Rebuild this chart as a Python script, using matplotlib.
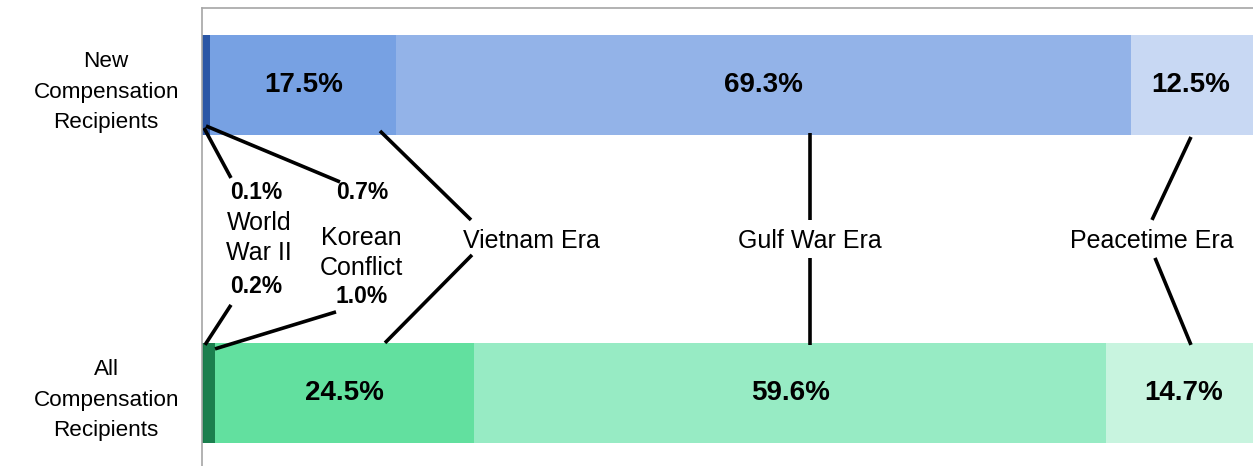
import matplotlib
matplotlib.use("Agg")
import matplotlib.pyplot as plt

# ----------------------------------------------------------------------------------------------------------------------
# Chart Data
eras      = ["World War II", "Korean Conflict", "Vietnam Era", "Gulf War Era", "Peacetime Era"]
rows      = ["All\nCompensation\nRecipients", "New\nCompensation\nRecipients"]
new_pct   = [0.1, 0.7, 17.5, 69.3, 12.5]
all_pct   = [0.2, 1.0, 24.5, 59.6, 14.7]

new_cols  = ["#1f4d9c", "#2a56a6", "#77a1e3", "#93b3e8", "#c8d8f3"]
all_cols  = ["#177a4a", "#1b7f4e", "#62e09f", "#97ebc4", "#c8f4df"]
# ----------------------------------------------------------------------------------------------------------------------

plt.rcParams["font.family"] = ["Liberation Sans", "DejaVu Sans"]

W, H = 1253, 466
fig = plt.figure(figsize=(W / 100, H / 100), dpi=100)

# Axes Spans Past The Right Edge (Picture Is Cropped There)
ax = fig.add_axes([202 / W, 1 - 476 / H, (1262 - 202) / W, (476 - 8) / H])
ax.set_xlim(0, 100)
ax.set_ylim(-0.27, 1.25)

bar_h = 0.325
for y, vals, cols in [(1, new_pct, new_cols), (0, all_pct, all_cols)]:
    left = 0
    for i, (v, c) in enumerate(zip(vals, cols)):
        ax.barh(y, v, left=left, height=bar_h, color=c, edgecolor="none")
        if i >= 2:
            ax.text(min(left + v / 2, 93.3), y, f"{v:.1f}%", ha="center", va="center",
                    fontsize=20, fontweight="bold", color="black")
        left += v

# Convert Pixel Positions Into Data Coords For The Connector Lines
def px(x, y):
    return (x - 202) / 10.6, 1 - (y - 85) / 308

segments = [
    ((204, 128), (231, 178)), ((206, 126), (340, 182)),
    ((380, 131), (471, 220)), ((810, 133), (810, 220)),
    ((1191, 137), (1152, 220)),
    ((231, 305), (205, 345)), ((336, 312), (215, 349)),
    ((472, 255), (385, 343)), ((810, 258), (810, 345)),
    ((1155, 258), (1191, 345)),
]
for a, b in segments:
    (x0, y0), (x1, y1) = px(*a), px(*b)
    ax.plot([x0, x1], [y0, y1], color="black", lw=2.6, solid_capstyle="butt", clip_on=False)

# Era Names And Small Percentages
small = [
    ((256, 193), f"{new_pct[0]:.1f}%", True), ((259, 238), "World\nWar II", False),
    ((256, 287), f"{all_pct[0]:.1f}%", True),
    ((362, 193), f"{new_pct[1]:.1f}%", True), ((361, 253), "Korean\nConflict", False),
    ((362, 297), f"{all_pct[1]:.1f}%", True),
    ((531, 241), eras[2], False), ((810, 241), eras[3], False), ((1152, 241), eras[4], False),
]
for (x, y), s, bold in small:
    dx, dy = px(x, y)
    ax.text(dx, dy, s, ha="center", va="center", fontsize=16.5 if bold else 18,
            fontweight="bold" if bold else "normal", linespacing=1.3)

ax.set_yticks([0, 1])
ax.set_yticklabels(rows, fontsize=16.2, linespacing=1.6)
for t in ax.get_yticklabels():
    t.set_horizontalalignment("center")
ax.tick_params(axis="y", length=0, pad=69)
ax.set_xticks([])

for side in ["left", "top", "right", "bottom"]:
    ax.spines[side].set_color("#a6a6a6")
    ax.spines[side].set_linewidth(1.2)

plt.savefig("out.png", dpi=100)
